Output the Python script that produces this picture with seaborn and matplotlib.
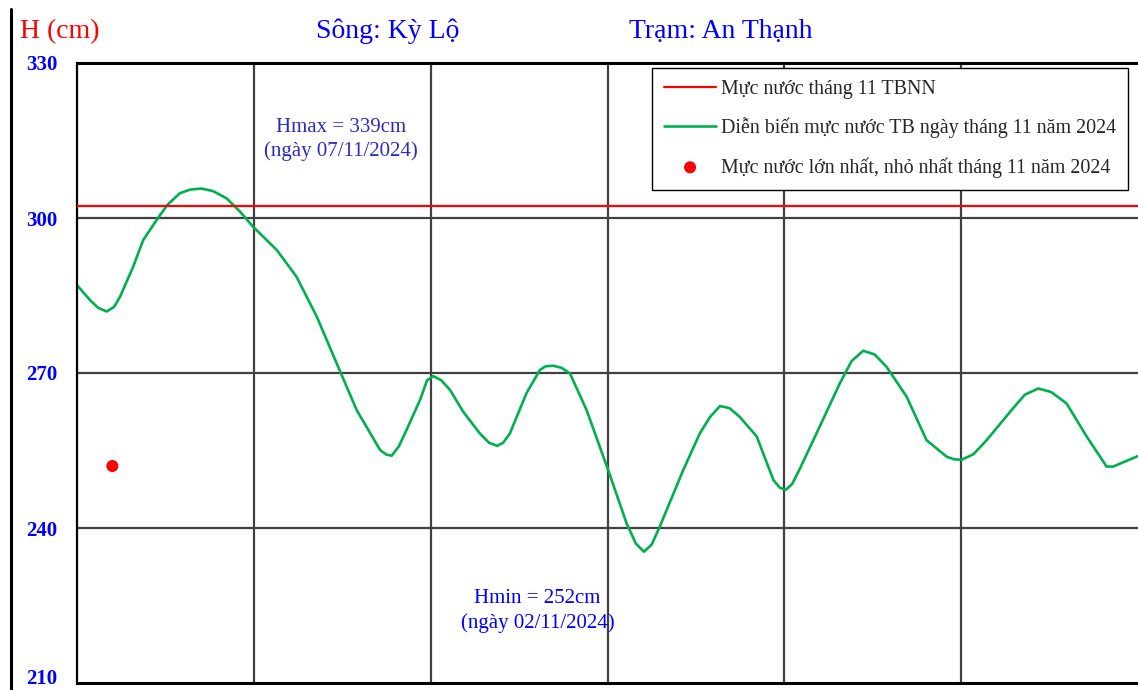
import matplotlib
matplotlib.use("Agg")
import matplotlib.pyplot as plt
import matplotlib.transforms as mtransforms
import seaborn as sns
import pandas as pd
from matplotlib.lines import Line2D

# daily mean water level, Nov 2024
days = [1.00, 1.37, 1.60, 1.84, 2.05, 2.22, 2.59, 2.87, 3.25, 3.55, 3.91, 4.20,
        4.52, 4.85, 5.23, 5.60, 5.98, 6.65, 7.21, 7.78, 8.44, 8.91, 9.57, 9.75,
        9.90, 10.10, 10.32, 10.70, 10.90, 11.07, 11.30, 11.55, 11.92, 12.39,
        12.65, 12.88, 13.05, 13.24, 13.71, 14.09, 14.25, 14.47, 14.70, 14.94,
        15.41, 16.02, 16.54, 16.80, 17.03, 17.25, 17.48, 18.14, 18.61, 18.90,
        19.18, 19.45, 19.74, 20.22, 20.69, 20.87, 21.04, 21.22, 21.42, 21.82,
        22.57, 22.90, 23.23, 23.55, 23.89, 24.46, 25.02, 25.59, 25.80, 26.01,
        26.35, 26.72, 27.47, 27.80, 28.18, 28.55, 28.98, 29.55, 30.11, 30.30,
        30.99]
level = [287.0, 284.1, 282.6, 281.9, 282.8, 284.8, 290.6, 295.7, 299.6, 302.5,
         304.8, 305.5, 305.7, 305.2, 303.8, 301.3, 298.3, 293.8, 288.6, 280.9,
         270.3, 262.8, 255.1, 254.2, 254.0, 255.8, 259.0, 264.8, 268.6, 269.4,
         268.6, 266.7, 262.5, 258.3, 256.5, 255.9, 256.5, 258.3, 266.1, 270.6,
         271.3, 271.4, 271.0, 269.9, 262.8, 251.2, 240.9, 237.0, 235.4, 236.8,
         240.3, 251.2, 258.3, 261.5, 263.6, 263.2, 261.5, 257.7, 249.3, 247.8,
         247.4, 248.5, 251.2, 257.0, 268.0, 272.3, 274.3, 273.6, 271.2, 265.4,
         257.0, 253.8, 253.3, 253.2, 254.3, 257.0, 263.2, 265.8, 267.0, 266.3,
         264.1, 257.7, 251.9, 251.9, 253.9]

tbnn_days = [1, 31]
tbnn_level = [302.3, 302.3]

ext_days = [2, 7]
ext_level = [252, 339]

yticks = [210, 240, 270, 300, 330]
xgrid = [6, 11, 16, 21, 26]

sns.set_style("white")
plt.rcParams['font.family'] = ['Liberation Serif', 'DejaVu Serif']

fig = plt.figure(figsize=(11.38, 6.90), dpi=100)
ax = fig.add_axes([77/1138, 7/690, 1061/1138, 620/690])

for y in yticks[1:-1]:
    ax.axhline(y, color='#404040', lw=1.6, zorder=1)
for x in xgrid:
    ax.axvline(x, color='#404040', lw=1.6, zorder=1)

df = pd.DataFrame({'day': days, 'level': level})
sns.lineplot(data=pd.DataFrame({'day': tbnn_days, 'level': tbnn_level}),
             x='day', y='level', color='#ff0000', lw=1.6, ax=ax, zorder=3,
             label='Mực nước tháng 11 TBNN')
sns.lineplot(data=df, x='day', y='level', color='#00b050', lw=1.9, ax=ax,
             zorder=2, label='Diễn biến mực nước TB ngày tháng 11 năm 2024')
sns.scatterplot(x=ext_days, y=ext_level, color='#ff0000', s=75, ax=ax,
                edgecolor='none', zorder=4,
                label='Mực nước lớn nhất, nhỏ nhất tháng 11 năm 2024')

ax.set_xlim(1, 31)
ax.set_ylim(210, 330)
ax.set_xticks([])
ax.set_yticks(yticks)
ax.set_yticklabels([str(v) for v in yticks], color='#0000ff',
                   fontweight='bold', fontsize=15)
ax.tick_params(axis='y', length=0, pad=14)
# lift the bottom label a touch so it stays inside the figure
lbl = ax.get_yticklabels()[0]
lbl.set_transform(lbl.get_transform() +
                  mtransforms.ScaledTranslation(0, 6/100, fig.dpi_scale_trans))
ax.set_xlabel('')
ax.set_ylabel('')

ax.spines['right'].set_visible(False)
ax.spines['top'].set_linewidth(2.2)
ax.spines['bottom'].set_linewidth(2.2)
ax.spines['left'].set_linewidth(1.6)
for s in ['top', 'bottom', 'left']:
    ax.spines[s].set_color('black')

leg = ax.legend(loc='upper left', bbox_to_anchor=(0.542, 0.992),
                borderaxespad=0, fancybox=False, framealpha=1,
                edgecolor='black', fontsize=14.4, handlelength=2.6,
                handletextpad=0.25, labelspacing=0.93, borderpad=0.6)
leg.get_frame().set_linewidth(1.0)

ax.text(8.46, 315.2, 'Hmax = 339cm\n(ngày 07/11/2024)', color='#2b2bbf',
        fontsize=15, ha='center', va='center', linespacing=1.35)
ax.text(14.02, 224.0, 'Hmin = 252cm\n(ngày 02/11/2024)', color='#0000ff',
        fontsize=15, ha='center', va='center', linespacing=1.35)

fig.text(20/1138, 1 - 38/690, 'H (cm)', color='#ff0000', fontsize=20,
         ha='left', va='baseline')
fig.text(388/1138, 1 - 38/690, 'Sông: Kỳ Lộ', color='#0000ff', fontsize=20,
         ha='center', va='baseline')
fig.text(721/1138, 1 - 38/690, 'Trạm: An Thạnh', color='#0000ff', fontsize=20,
         ha='center', va='baseline')

fig.add_artist(Line2D([10.5/1138, 10.5/1138], [0, 1 - 9/690], color='black',
                      lw=2.2, transform=fig.transFigure))

fig.savefig('out.png', dpi=100)
